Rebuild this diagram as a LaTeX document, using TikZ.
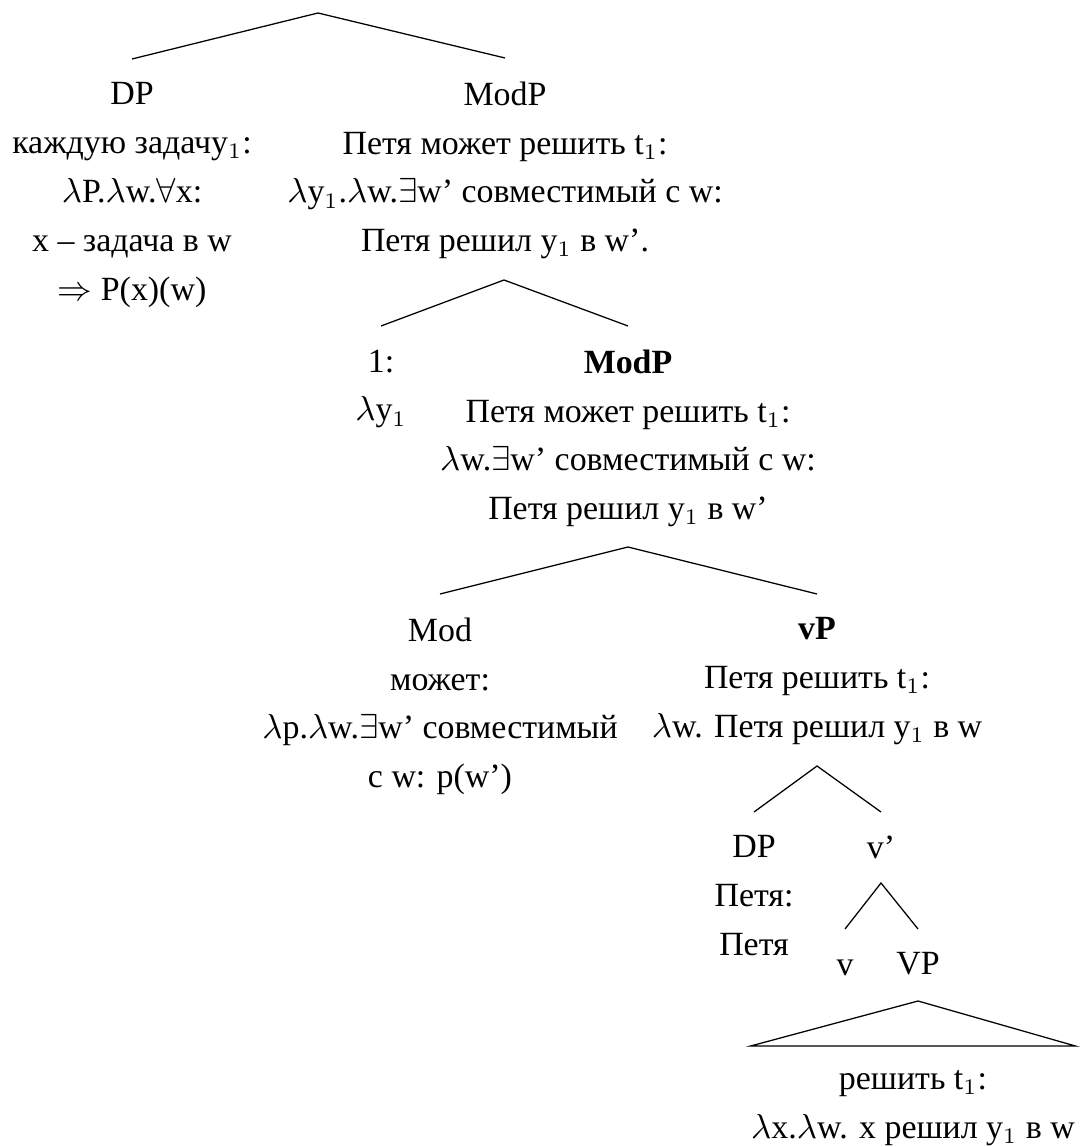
\documentclass[tikz,border=0pt]{standalone}
\usepackage{fontspec}
\setmainfont{Liberation Serif}
\usepackage{tikz}

\begin{document}
\begin{tikzpicture}[
    x=0.0111cm, y=-0.0111cm,
    uzel/.style={align=center, anchor=north, inner xsep=0pt, inner ysep=7.3pt,
                 font={\fontsize{10.7}{15.4}\selectfont}},
    vetv/.style={line width=0.4pt}
  ]
    \useasboundingbox (0,0) rectangle (1080,1147);
    \coordinate (k0) at (318,13);
    \node[uzel] (dp) at (132,59) {DP\\каждую задачу$_1$:\\$\lambda$P.$\lambda$w.$\forall$x:\\x – задача в w\\$\Rightarrow$ P(x)(w)};
    \node[uzel] (modp) at (505,58) {ModP\\Петя может решить t$_1$:\\$\lambda$y$_1$.$\lambda$w.$\exists$w' совместимый с w:\\Петя решил y$_1$ в w'.};
    \coordinate (k1) at (504,280);
    \node[uzel] (idx) at (381,326) {1:\\$\lambda$y$_1$};
    \node[uzel] (modpb) at (628,326) {\textbf{ModP}\\Петя может решить t$_1$:\\$\lambda$w.$\exists$w' совместимый с w:\\Петя решил y$_1$ в w'};
    \coordinate (k2) at (628,547);
    \node[uzel] (mod) at (440,594) {Mod\\может:\\$\lambda$p.$\lambda$w.$\exists$w' совместимый\\с w: p(w')};
    \node[uzel] (vp) at (817,594) {\textbf{vP}\\Петя решить t$_1$:\\$\lambda$w. Петя решил y$_1$ в w};
    \coordinate (k3) at (817,766);
    \node[uzel] (dpb) at (754,812) {DP\\Петя:\\Петя};
    \node[uzel] (vbar) at (881,812) {v'};
    \coordinate (k4) at (881,883);
    \node[uzel, text height=7.1pt] (vv) at (845,929) {v};
    \node[uzel] (vpc) at (918,929) {VP};
    \coordinate (k5) at (918,1001);
    \node[uzel, inner ysep=7.5pt] (vpsem) at (913,1046) {решить t$_1$:\\$\lambda$x.$\lambda$w. x решил y$_1$ в w};
    \draw[vetv] (dp.north) -- (k0) -- (modp.north);
    \draw[vetv] (idx.north) -- (k1) -- (modpb.north);
    \draw[vetv] (mod.north) -- (k2) -- (vp.north);
    \draw[vetv] (dpb.north) -- (k3) -- (vbar.north);
    \draw[vetv] (vv.north) -- (k4) -- (vpc.north);
    \draw[vetv] (k5) -- (vpsem.north west) -- (vpsem.north east) -- cycle;
  \end{tikzpicture}
\end{document}
